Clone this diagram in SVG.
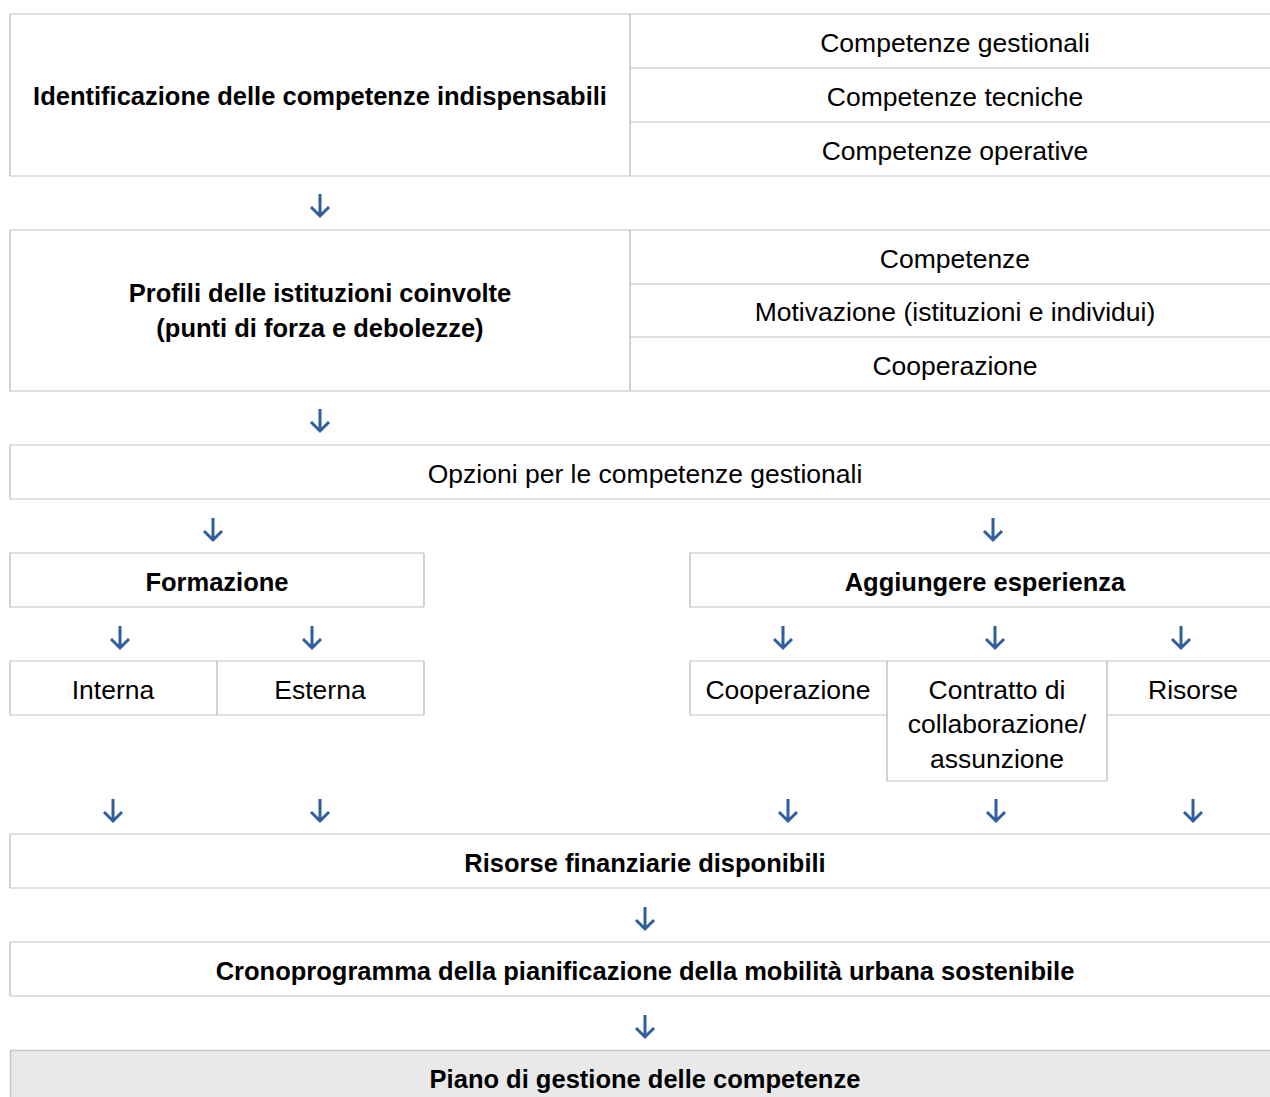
<svg xmlns="http://www.w3.org/2000/svg" width="1270" height="1097" viewBox="0 0 1270 1097">
<style>
text{font-family:"Liberation Sans",Arial,sans-serif;font-size:26.5px;fill:#000;text-anchor:middle}
.b{font-weight:bold;font-size:25.5px}
.h{stroke:#d6d6d6;stroke-width:1.5;fill:none}
.v{stroke:#c4c4c4;stroke-width:1.5;fill:none}
.arr{stroke:#2f5f9c;stroke-width:3;fill:none;stroke-linecap:butt;stroke-linejoin:miter}
</style>
<defs>
<path id="a" d="M0 -11 V11 M-9 2 L0 11 L9 2"/>
</defs>
<rect width="1270" height="1097" fill="#fff"/>

<g id="n-identificazione">
<path class="h" d="M10 14 H1270 M10 176 H1270 M630 68 H1270 M630 122 H1270"/>
<path class="v" d="M10 14 V176 M630 14 V176"/>
<text class="b" x="320" y="105">Identificazione delle competenze indispensabili</text>
<text x="955" y="52">Competenze gestionali</text>
<text x="955" y="106">Competenze tecniche</text>
<text x="955" y="160">Competenze operative</text>
</g>

<g id="n-profili">
<path class="h" d="M10 230 H1270 M10 391 H1270 M630 284 H1270 M630 337 H1270"/>
<path class="v" d="M10 230 V391 M630 230 V391"/>
<text class="b" x="320" y="302">Profili delle istituzioni coinvolte</text>
<text class="b" x="320" y="337">(punti di forza e debolezze)</text>
<text x="955" y="268">Competenze</text>
<text x="955" y="321">Motivazione (istituzioni e individui)</text>
<text x="955" y="375">Cooperazione</text>
</g>

<g id="n-opzioni">
<path class="h" d="M10 445 H1270 M10 499 H1270"/>
<path class="v" d="M10 445 V499"/>
<text x="645" y="483">Opzioni per le competenze gestionali</text>
</g>

<g id="n-formazione">
<path class="h" d="M10 553 H424 M10 607 H424"/>
<path class="v" d="M10 553 V607 M424 553 V607"/>
<text class="b" x="217" y="591">Formazione</text>
</g>

<g id="n-aggiungere">
<path class="h" d="M690 553 H1270 M690 607 H1270"/>
<path class="v" d="M690 553 V607"/>
<text class="b" x="985" y="591">Aggiungere esperienza</text>
</g>

<g id="n-interna">
<path class="h" d="M10 661 H217 M10 715 H217"/>
<path class="v" d="M10 661 V715"/>
<text x="113" y="699">Interna</text>
</g>

<g id="n-esterna">
<path class="h" d="M217 661 H424 M217 715 H424"/>
<path class="v" d="M217 661 V715 M424 661 V715"/>
<text x="320" y="699">Esterna</text>
</g>

<g id="n-cooperazione">
<path class="h" d="M690 661 H887 M690 715 H887"/>
<path class="v" d="M690 661 V715"/>
<text x="788" y="699">Cooperazione</text>
</g>

<g id="n-contratto">
<path class="h" d="M887 661 H1107 M887 781 H1107"/>
<path class="v" d="M887 661 V781 M1107 661 V781"/>
<text x="997" y="699">Contratto di</text>
<text x="997" y="733">collaborazione/</text>
<text x="997" y="768">assunzione</text>
</g>

<g id="n-risorse">
<path class="h" d="M1107 661 H1270 M1107 715 H1270"/>
<text x="1193" y="699">Risorse</text>
</g>

<g id="n-finanziarie">
<path class="h" d="M10 834 H1270 M10 888 H1270"/>
<path class="v" d="M10 834 V888"/>
<text class="b" x="645" y="872">Risorse finanziarie disponibili</text>
</g>

<g id="n-crono">
<path class="h" d="M10 942 H1270 M10 996 H1270"/>
<path class="v" d="M10 942 V996"/>
<text class="b" x="645" y="980">Cronoprogramma della pianificazione della mobilità urbana sostenibile</text>
</g>

<g id="n-piano">
<rect x="10" y="1050" width="1260" height="47" fill="#e9e9e9"/>
<path d="M10 1050.5 H1270" stroke="#c8c8c8" stroke-width="1.5"/>
<path class="v" d="M10.5 1050 V1097"/>
<text class="b" x="645" y="1088">Piano di gestione delle competenze</text>
</g>

<g id="connectors" class="arr">
<use href="#a" x="320" y="205"/>
<use href="#a" x="320" y="420"/>
<use href="#a" x="213" y="529"/>
<use href="#a" x="993" y="529"/>
<use href="#a" x="120" y="637"/>
<use href="#a" x="312" y="637"/>
<use href="#a" x="783" y="637"/>
<use href="#a" x="995" y="637"/>
<use href="#a" x="1181" y="637"/>
<use href="#a" x="113" y="810"/>
<use href="#a" x="320" y="810"/>
<use href="#a" x="788" y="810"/>
<use href="#a" x="996" y="810"/>
<use href="#a" x="1193" y="810"/>
<use href="#a" x="645" y="918"/>
<use href="#a" x="645" y="1026"/>
</g>
</svg>
